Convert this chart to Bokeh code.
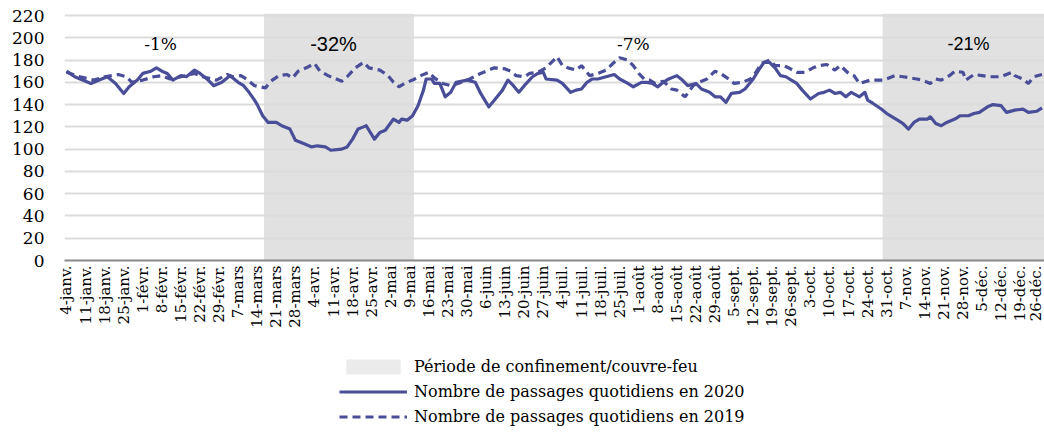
import numpy as np
from bokeh.plotting import figure
from bokeh.layouts import column
from bokeh.models import FixedTicker, Label, Legend, LegendItem, Range1d
from bokeh.embed import file_html
from bokeh.resources import INLINE

# ---------------- data (x = days since 4 janv. 2020) ----------------
days_2020 = [0, 3, 5, 9, 12, 15, 18, 21, 23, 26,
             28, 31, 33, 35, 37, 39, 42, 44, 47, 49,
             52, 54, 57, 60, 63, 65, 67, 69, 70, 72,
             74, 77, 79, 82, 84, 87, 90, 92, 95, 97,
             101, 103, 105, 107, 109, 110, 113, 115, 117, 120,
             122, 123, 125, 127, 129, 131, 132, 134, 135, 137,
             139, 141, 143, 147, 150, 152, 155, 157, 160, 162,
             164, 166, 168, 171, 173, 175, 176, 180, 182, 185,
             187, 189, 191, 193, 195, 198, 201, 203, 206, 208,
             211, 213, 215, 217, 219, 221, 224, 226, 228, 231,
             233, 236, 238, 240, 242, 244, 247, 249, 252, 254,
             256, 258, 260, 262, 264, 266, 268, 270, 273, 276,
             278, 280, 282, 284, 286, 288, 291, 293, 294, 296,
             299, 301, 303, 305, 307, 309, 311, 313, 316, 317,
             319, 321, 323, 326, 328, 331, 333, 335, 338, 340,
             343, 345, 348, 351, 353, 356, 358]
passages_2020 = [170, 165, 163, 159, 162, 165, 159, 150, 156, 162,
                 168, 170, 173, 170, 168, 162, 166, 165, 171, 168,
                 162, 157, 160, 166, 160, 157, 151, 144, 140, 130,
                 124, 124, 121, 118, 108, 105, 102, 103, 102, 99,
                 100, 102, 109, 118, 120, 121, 109, 115, 117, 127,
                 124, 127, 126, 130, 139, 153, 163, 163, 159, 159,
                 147, 151, 160, 162, 160, 150, 138, 144, 153, 162,
                 157, 151, 157, 165, 168, 169, 163, 162, 159, 151,
                 153, 154, 160, 163, 163, 165, 167, 163, 159, 156,
                 160, 160, 159, 156, 160, 163, 166, 162, 157, 159,
                 154, 151, 147, 147, 142, 150, 151, 154, 163, 171,
                 178, 178, 173, 166, 165, 162, 159, 153, 145, 150,
                 151, 153, 150, 151, 147, 151, 147, 151, 144, 141,
                 136, 132, 129, 126, 123, 118, 124, 127, 127, 129,
                 123, 121, 124, 127, 130, 130, 132, 133, 138, 140,
                 139, 133, 135, 136, 133, 134, 137]

days_2019 = [0, 5, 10, 14, 19, 22, 24, 28, 32, 35,
             38, 42, 47, 50, 55, 59, 61, 64, 66, 69,
             73, 75, 78, 81, 83, 85, 88, 91, 93, 96,
             98, 101, 103, 106, 109, 111, 115, 118, 120, 122,
             124, 127, 130, 133, 135, 138, 141, 145, 148, 152,
             155, 157, 161, 163, 165, 168, 170, 173, 176, 178,
             180, 182, 184, 187, 189, 192, 195, 198, 201, 203,
             206, 208, 210, 212, 214, 216, 219, 222, 224, 227,
             230, 232, 235, 238, 240, 243, 245, 248, 251, 253,
             255, 258, 260, 263, 265, 268, 271, 274, 276, 279,
             282, 284, 287, 289, 291, 295, 300, 304, 307, 312,
             314, 317, 319, 321, 324, 326, 329, 330, 333, 336,
             339, 343, 347, 348, 351, 353, 355, 358]
passages_2019 = [169, 165, 162, 165, 167, 165, 160, 162, 165, 166,
                 163, 165, 168, 165, 162, 167, 165, 166, 163, 157,
                 155, 161, 166, 167, 164, 170, 173, 177, 170, 166,
                 164, 161, 165, 173, 178, 173, 171, 166, 160, 156,
                 159, 162, 166, 169, 164, 159, 157, 160, 163, 168,
                 171, 173, 172, 170, 166, 165, 168, 169, 173, 178,
                 183, 175, 173, 171, 175, 166, 168, 171, 178, 182,
                 180, 175, 168, 163, 162, 159, 161, 154, 153, 147,
                 157, 160, 163, 170, 168, 163, 159, 160, 163, 169,
                 177, 180, 175, 175, 173, 169, 169, 173, 175, 176,
                 171, 175, 168, 166, 159, 162, 162, 166, 165, 163,
                 162, 159, 163, 162, 166, 170, 169, 162, 167, 166,
                 165, 165, 169, 166, 163, 159, 165, 167]

tick_labels = ["4-janv.", "11-janv.", "18-janv.", "25-janv.", "1-févr.", "8-févr.",
               "15-févr.", "22-févr.", "29-févr.", "7-mars", "14-mars", "21-mars",
               "28-mars", "4-avr.", "11-avr.", "18-avr.", "25-avr.", "2-mai", "9-mai",
               "16-mai", "23-mai", "30-mai", "6-juin", "13-juin", "20-juin", "27-juin",
               "4-juil.", "11-juil.", "18-juil.", "25-juil.", "1-août", "8-août",
               "15-août", "22-août", "29-août", "5-sept.", "12-sept.", "19-sept.",
               "26-sept.", "3-oct.", "10-oct.", "17-oct.", "24-oct.", "31-oct.",
               "7-nov.", "14-nov.", "21-nov.", "28-nov.", "5-déc.", "12-déc.",
               "19-déc.", "26-déc."]

# confinement / couvre-feu periods (days since 4 janv.)
conf_start = [73, 300]
conf_end = [128, 362]

variation_labels = ["-1%", "-32%", "-7%", "-21%"]

legend_labels = ["Période de confinement/couvre-feu",
                 "Nombre de passages quotidiens en 2020",
                 "Nombre de passages quotidiens en 2019"]

# ---------------- styling ----------------
BLUE = "#4A4E98"
SHADE = "#E1E1E1"
SERIF = "DejaVu Serif"
X0 = -0.73
X1 = X0 + 980 / 2.725
Y1 = 221.8
W = 1044

p = figure(width=W, height=340, x_range=Range1d(X0, X1), y_range=Range1d(0, Y1),
           output_backend="svg", toolbar_location=None,
           min_border_left=64, min_border_right=0, min_border_top=13, min_border_bottom=80)
p.outline_line_color = None
p.background_fill_color = "white"

shade_left = [s - 0.5 for s in conf_start]
shade_right = [e - 0.5 for e in conf_end]
shade = p.quad(left=shade_left, right=shade_right, bottom=0, top=Y1,
               fill_color=SHADE, line_color=None, level="image")

r20 = p.line(days_2020, passages_2020, line_color=BLUE, line_width=3.2, line_join="round")
r19 = p.line(days_2019, passages_2019, line_color=BLUE, line_width=3.2, line_dash="8 5")

# axes
tick_pos = [7 * i for i in range(len(tick_labels))]
p.xaxis.ticker = FixedTicker(ticks=tick_pos)
p.xaxis.major_label_overrides = {t: l for t, l in zip(tick_pos, tick_labels)}
p.xaxis.major_label_orientation = np.pi / 2
p.xaxis.major_label_text_font = SERIF
p.xaxis.major_label_text_font_size = "15px"
p.xaxis.major_label_text_color = "black"
p.xaxis.major_label_standoff = 5
p.xaxis.axis_line_color = "#898989"
p.xaxis.axis_line_width = 2
p.xaxis.major_tick_line_color = None
p.xaxis.minor_tick_line_color = None
p.xaxis.major_tick_out = 0

p.yaxis.ticker = FixedTicker(ticks=list(range(0, 221, 20)))
p.yaxis.major_label_text_font = SERIF
p.yaxis.major_label_text_font_size = "17px"
p.yaxis.major_label_text_color = "black"
p.yaxis.axis_line_color = None
p.yaxis.major_tick_line_color = None
p.yaxis.minor_tick_line_color = None
p.yaxis.major_tick_out = 0
p.yaxis.major_label_standoff = 20

p.xgrid.visible = False
p.ygrid.grid_line_color = "#DCDCDC"
p.ygrid.grid_line_width = 2

# variation annotations
ann_x = [34.5, 98, 208, 331]
ann_font = [SERIF, "Liberation Sans", SERIF, "Liberation Sans"]
ann_size = ["17px", "20px", "17px", "18px"]
for txt, x, f, s in zip(variation_labels, ann_x, ann_font, ann_size):
    p.add_layout(Label(x=x, y=194, text=txt, text_align="center", text_baseline="middle",
                       text_font=f, text_font_size=s, text_color="black"))

# ---------------- legend (separate strip below the chart) ----------------
# The same series are drawn again here, but outside this strip's visible range,
# so only the legend shows.
LH = 93
pl = figure(width=W, height=LH, x_range=Range1d(-2000, -1999), y_range=Range1d(-2000, -1999),
            output_backend="svg", toolbar_location=None,
            x_axis_location=None, y_axis_location=None,
            min_border_left=0, min_border_right=0, min_border_top=0, min_border_bottom=0)
pl.grid.visible = False
pl.outline_line_color = None
lg_shade = pl.quad(left=shade_left, right=shade_right, bottom=0, top=Y1,
                   fill_color="#EBEBEB", line_color=None)
lg_20 = pl.line(days_2020, passages_2020, line_color=BLUE, line_width=3.2)
lg_19 = pl.line(days_2019, passages_2019, line_color=BLUE, line_width=3.2, line_dash="8 5")

legend = Legend(items=[LegendItem(label=l, renderers=[r])
                       for l, r in zip(legend_labels, [lg_shade, lg_20, lg_19])],
                location=(275, 7), orientation="vertical", glyph_width=68, glyph_height=19,
                label_height=19, spacing=6, padding=0, margin=0, border_line_color=None,
                background_fill_alpha=0, label_text_font=SERIF, label_text_font_size="16px",
                label_standoff=7, label_text_color="black")
pl.add_layout(legend)

open("out.html", "w").write(file_html(column(p, pl, spacing=0), INLINE))
